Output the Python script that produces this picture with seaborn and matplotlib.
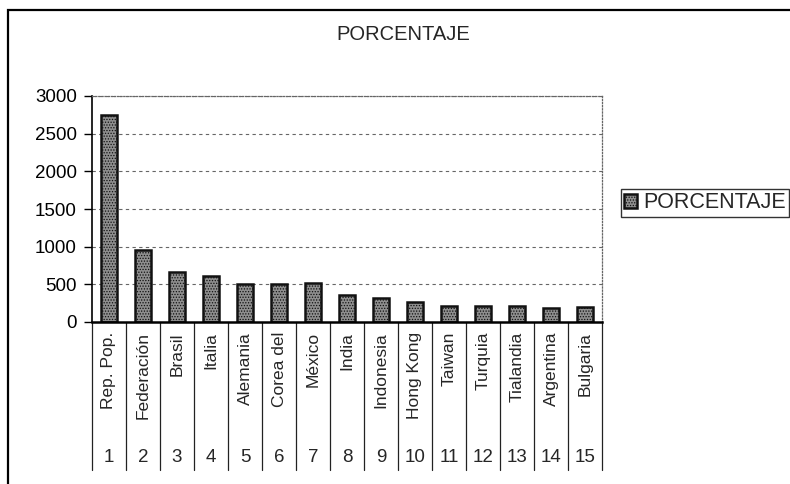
import matplotlib
matplotlib.use("Agg")
import matplotlib.pyplot as plt
import matplotlib.transforms as mtransforms
from matplotlib.lines import Line2D
from matplotlib.patches import Rectangle
import seaborn as sns
import pandas as pd

categories = ["Rep. Pop.", "Federación", "Brasil", "Italia", "Alemania", "Corea del",
              "México", "India", "Indonesia", "Hong Kong", "Taiwan", "Turquia",
              "Tialandia", "Argentina", "Bulgaria"]
ranks = ["1", "2", "3", "4", "5", "6", "7", "8", "9", "10", "11", "12", "13", "14", "15"]
porcentaje = [2750, 950, 660, 610, 505, 510, 515, 365, 325, 270, 215, 210, 215, 190, 195]
yticks = [0, 500, 1000, 1500, 2000, 2500, 3000]
series_name = "PORCENTAJE"

sns.set_style("white")
plt.rcParams["font.family"] = ["Liberation Sans", "DejaVu Sans"]
plt.rcParams["hatch.linewidth"] = 0.6

W, H = 790, 484
fig = plt.figure(figsize=(W / 100, H / 100), dpi=100)
fig.patch.set_facecolor("white")

x0, x1, ytop, ybot = 92, 602, 96, 322
ax = fig.add_axes([x0 / W, 1 - ybot / H, (x1 - x0) / W, (ybot - ytop) / H])

df = pd.DataFrame({"cat": categories, "val": porcentaje})
sns.barplot(data=df, x="cat", y="val", ax=ax, color="#8e8e8e", width=0.47,
            edgecolor="#111111", linewidth=1.8, saturation=1, label=series_name)
for p in ax.patches:
    p.set_hatch("......")

ax.set_ylim(0, 3000)
ax.set_xlim(-0.5, len(categories) - 0.5)
ax.set_yticks(yticks)
ax.set_yticklabels([str(v) for v in yticks], fontsize=13.5)
ax.set_xlabel("")
ax.set_ylabel("")
ax.tick_params(axis="y", direction="out", length=6, width=1, pad=5, left=True, colors="black")
ax.set_xticks([])

for v in yticks[1:]:
    ax.axhline(v, color="#666666", lw=0.8, ls=(0, (3, 3)), zorder=0)

for side in ["top", "right"]:
    ax.spines[side].set_linestyle((0, (1, 1.5)))
    ax.spines[side].set_color("#666666")
    ax.spines[side].set_linewidth(0.9)
ax.spines["left"].set_color("black")
ax.spines["left"].set_linewidth(1.2)
ax.spines["bottom"].set_color("black")
ax.spines["bottom"].set_linewidth(1.8)

trans = mtransforms.blended_transform_factory(ax.transData, ax.transAxes)
ext = -(470 - ybot) / (ybot - ytop)
n = len(categories)
for i in range(n + 1):
    ax.add_line(Line2D([i - 0.5, i - 0.5], [0, ext], transform=trans, color="#222222",
                       lw=0.9, clip_on=False))
lab_y = -(332 - ybot) / (ybot - ytop)
num_y = -(457 - ybot) / (ybot - ytop)
for i, (c, r) in enumerate(zip(categories, ranks)):
    ax.text(i, lab_y, c, transform=trans, rotation=90, ha="center", va="top",
            fontsize=12.5, clip_on=False)
    ax.text(i, num_y, r, transform=trans, ha="center", va="center",
            fontsize=13.5, clip_on=False)

fig.text(403 / W, 1 - 35 / H, "PORCENTAJE", ha="center", va="center", fontsize=14.5)

leg = ax.legend(loc="center left", bbox_to_anchor=(621 / W, 1 - 203 / H),
                bbox_transform=fig.transFigure, frameon=True, fancybox=False,
                fontsize=15.5, handlelength=0.6, handleheight=0.6, handletextpad=0.3,
                borderpad=0.15, borderaxespad=0)
leg.get_frame().set_edgecolor("black")
leg.get_frame().set_linewidth(1.0)

fig.add_artist(Rectangle((8 / W, -0.05), 1.0, 1 - 10 / H + 0.05, transform=fig.transFigure,
                         fill=False, edgecolor="black", lw=1.6))

fig.savefig("out.png", dpi=100)
